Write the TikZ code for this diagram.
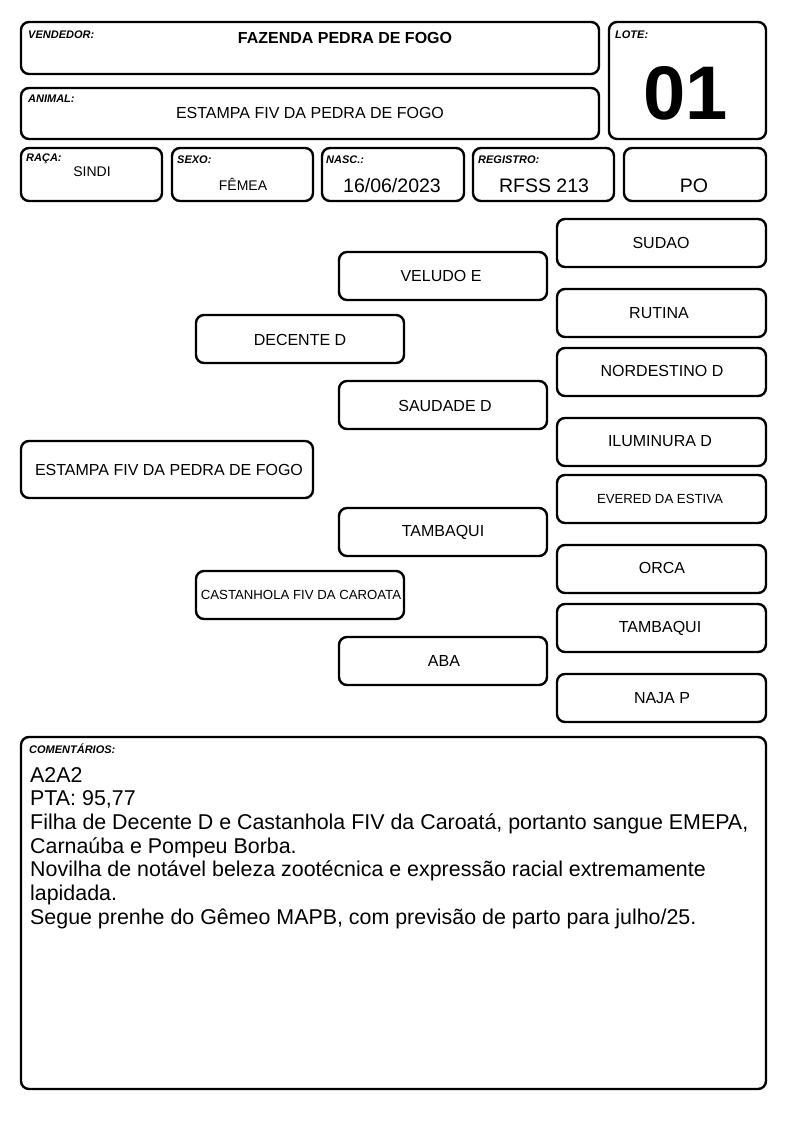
\documentclass[tikz,border=0pt]{standalone}
\usepackage{fontspec}
\setmainfont{Liberation Sans}
\begin{document}
\begin{tikzpicture}[x=1pt,y=-1pt,
  box/.style={draw=black,line width=2.4pt,rounded corners=8pt},
  lbl/.style={anchor=west,font=\fontsize{11}{12}\selectfont\bfseries\itshape,inner sep=0pt},
  ped/.style={font=\fontsize{16}{18}\selectfont,inner sep=0pt},
  pedsm/.style={font=\fontsize{13.2}{15}\selectfont,inner sep=0pt},
  val/.style={inner sep=0pt}]
\useasboundingbox[fill=white] (0,0) rectangle (794,1123);
% header
\draw[box] (21,22) rectangle (599,74);
\node[lbl] (lv) at (28,35) {VENDEDOR:};
\node[val,font=\fontsize{16}{18}\selectfont\bfseries] (vend) at (345,38) {FAZENDA PEDRA DE FOGO};
\draw[box] (21,88) rectangle (599,139);
\node[lbl] (la) at (28,99) {ANIMAL:};
\node[val,font=\fontsize{16}{18}\selectfont] (anim) at (310,113) {ESTAMPA FIV DA PEDRA DE FOGO};
\draw[box] (609,22) rectangle (766,139);
\node[lbl] (ll) at (615,35) {LOTE:};
\node[val,font=\fontsize{76}{80}\selectfont\bfseries] (lote) at (686,93) {01};
% row
\draw[box] (21,148) rectangle (162,201);
\node[lbl] (lr) at (26,159) {RAÇA:};
\node[val,font=\fontsize{14}{16}\selectfont] (raca) at (92,172) {SINDI};
\draw[box] (172,148) rectangle (313,201);
\node[lbl] (ls) at (177,160) {SEXO:};
\node[val,font=\fontsize{14}{16}\selectfont] (sexo) at (243,184) {FÊMEA};
\draw[box] (322,148) rectangle (464,201);
\node[lbl] (ln) at (326,160) {NASC.:};
\node[val,font=\fontsize{19.5}{21}\selectfont] (nasc) at (392,186) {16/06/2023};
\draw[box] (473,148) rectangle (614,201);
\node[lbl] (lg) at (478,160) {REGISTRO:};
\node[val,font=\fontsize{19.5}{21}\selectfont] (reg) at (544,186) {RFSS 213};
\draw[box] (624,148) rectangle (766,201);
\node[val,font=\fontsize{19.5}{21}\selectfont] (po) at (694,186) {PO};
% pedigree
\draw[box] (21,441) rectangle (313,498);
\node[ped] (est) at (169,470) {ESTAMPA FIV DA PEDRA DE FOGO};
\draw[box] (196,315) rectangle (404,363);
\node[ped] (dec) at (300,340) {DECENTE D};
\draw[box] (196,571) rectangle (404,619);
\node[pedsm] (cas) at (301,595) {CASTANHOLA FIV DA CAROATA};
\draw[box] (339,252) rectangle (547,300);
\node[ped] (vel) at (441,276) {VELUDO E};
\draw[box] (339,381) rectangle (547,429);
\node[ped] (sau) at (445,406) {SAUDADE D};
\draw[box] (339,508) rectangle (547,556);
\node[ped] (tam) at (443,532) {TAMBAQUI};
\draw[box] (339,637) rectangle (547,685);
\node[ped] (aba) at (444,661) {ABA};
\draw[box] (557,219) rectangle (766,267);
\node[ped] (sud) at (661,243) {SUDAO};
\draw[box] (557,289) rectangle (766,337);
\node[ped] (rut) at (659,313) {RUTINA};
\draw[box] (557,348) rectangle (766,396);
\node[ped] (nor) at (662,371) {NORDESTINO D};
\draw[box] (557,418) rectangle (766,466);
\node[ped] (ilu) at (660,441) {ILUMINURA D};
\draw[box] (557,475) rectangle (766,523);
\node[pedsm] (eve) at (660,499) {EVERED DA ESTIVA};
\draw[box] (557,545) rectangle (766,593);
\node[ped] (orc) at (662,568) {ORCA};
\draw[box] (557,604) rectangle (766,652);
\node[ped] (tb2) at (660,628) {TAMBAQUI};
\draw[box] (557,674) rectangle (766,722);
\node[ped] (naj) at (662,698) {NAJA P};
% comments
\draw[box] (21,737) rectangle (766,1089);
\node[lbl] (lc) at (29,749) {COMENTÁRIOS:};
\node[anchor=north west,inner sep=0pt,align=left,font=\fontsize{21.4}{23.7}\selectfont] (com) at (30,767) {A2A2\\PTA: 95,77\\Filha de Decente D e Castanhola FIV da Caroatá, portanto sangue EMEPA,\\Carnaúba e Pompeu Borba.\\Novilha de notável beleza zootécnica e expressão racial extremamente\\lapidada.\\Segue prenhe do Gêmeo MAPB, com previsão de parto para julho/25.};
\end{tikzpicture}
\end{document}
